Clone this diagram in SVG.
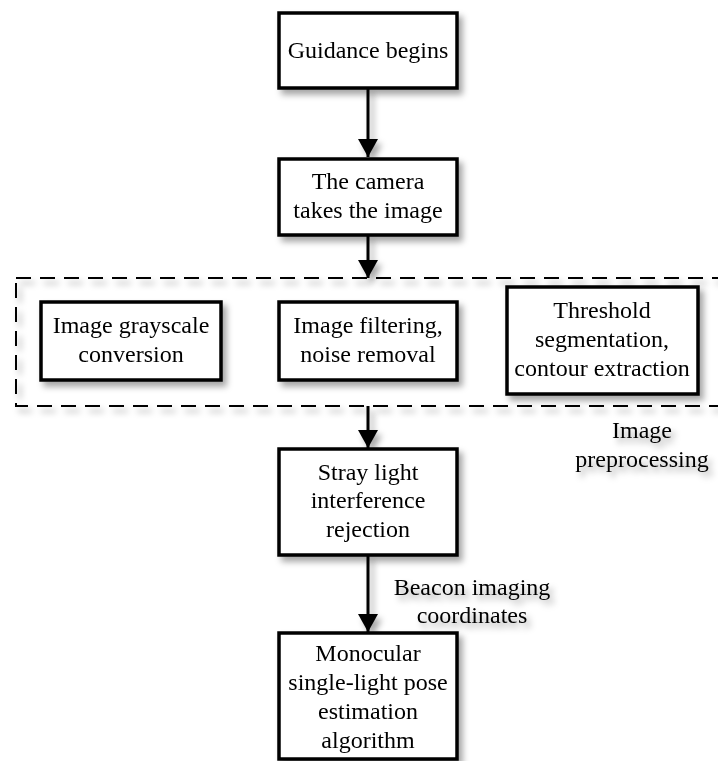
<svg xmlns="http://www.w3.org/2000/svg" width="718" height="761" viewBox="0 0 718 761">
<defs>
<filter id="sh" x="-20%" y="-20%" width="150%" height="150%">
<feDropShadow dx="4" dy="5" stdDeviation="3" flood-color="#000" flood-opacity="0.35"/>
</filter>
<marker id="ah" markerUnits="userSpaceOnUse" markerWidth="22" markerHeight="20" refX="18" refY="10" orient="auto">
<path d="M0,0 L18,10 L0,20 Z" fill="#000"/>
</marker>
<style>
.box{fill:#fff;stroke:#000;stroke-width:3.5}
.grp{fill:none;stroke:#000;stroke-width:2;stroke-dasharray:15 9}
.t{font-family:"Liberation Serif","Times New Roman",serif;font-size:24px;text-anchor:middle;fill:#000}
.c{stroke:#000;stroke-width:3;fill:none}
</style>
</defs>
<rect width="718" height="761" fill="#fff"/>
<g id="group-preprocessing" filter="url(#sh)">
<rect class="grp" x="16" y="278" width="710" height="128"/>
<text class="t" x="642" y="438">Image</text>
<text class="t" x="642" y="467">preprocessing</text>
</g>
<g id="connectors" filter="url(#sh)">
<line class="c" x1="368" y1="88" x2="368" y2="157" marker-end="url(#ah)"/>
<line class="c" x1="368" y1="235" x2="368" y2="278" marker-end="url(#ah)"/>
<line class="c" x1="368" y1="406" x2="368" y2="448" marker-end="url(#ah)"/>
<line class="c" x1="368" y1="555" x2="368" y2="632" marker-end="url(#ah)"/>
<text class="t" x="472" y="595">Beacon imaging</text>
<text class="t" x="472" y="623">coordinates</text>
</g>
<g id="n1" filter="url(#sh)">
<rect class="box" x="279" y="13" width="178" height="75"/>
<text class="t" x="368" y="58">Guidance begins</text>
</g>
<g id="n2" filter="url(#sh)">
<rect class="box" x="279" y="159" width="178" height="76"/>
<text class="t" x="368" y="189">The camera</text>
<text class="t" x="368" y="218">takes the image</text>
</g>
<g id="n3" filter="url(#sh)">
<rect class="box" x="41" y="302" width="180" height="78"/>
<text class="t" x="131" y="333">Image grayscale</text>
<text class="t" x="131" y="362">conversion</text>
</g>
<g id="n4" filter="url(#sh)">
<rect class="box" x="279" y="302" width="178" height="78"/>
<text class="t" x="368" y="333">Image filtering,</text>
<text class="t" x="368" y="362">noise removal</text>
</g>
<g id="n5" filter="url(#sh)">
<rect class="box" x="507" y="287" width="191" height="107"/>
<text class="t" x="602" y="318">Threshold</text>
<text class="t" x="602" y="347">segmentation,</text>
<text class="t" x="602" y="376">contour extraction</text>
</g>
<g id="n6" filter="url(#sh)">
<rect class="box" x="279" y="449" width="178" height="106"/>
<text class="t" x="368" y="480">Stray light</text>
<text class="t" x="368" y="508">interference</text>
<text class="t" x="368" y="537">rejection</text>
</g>
<g id="n7" filter="url(#sh)">
<rect class="box" x="279" y="633" width="178" height="126"/>
<text class="t" x="368" y="661">Monocular</text>
<text class="t" x="368" y="690">single-light pose</text>
<text class="t" x="368" y="719">estimation</text>
<text class="t" x="368" y="748">algorithm</text>
</g>
</svg>
